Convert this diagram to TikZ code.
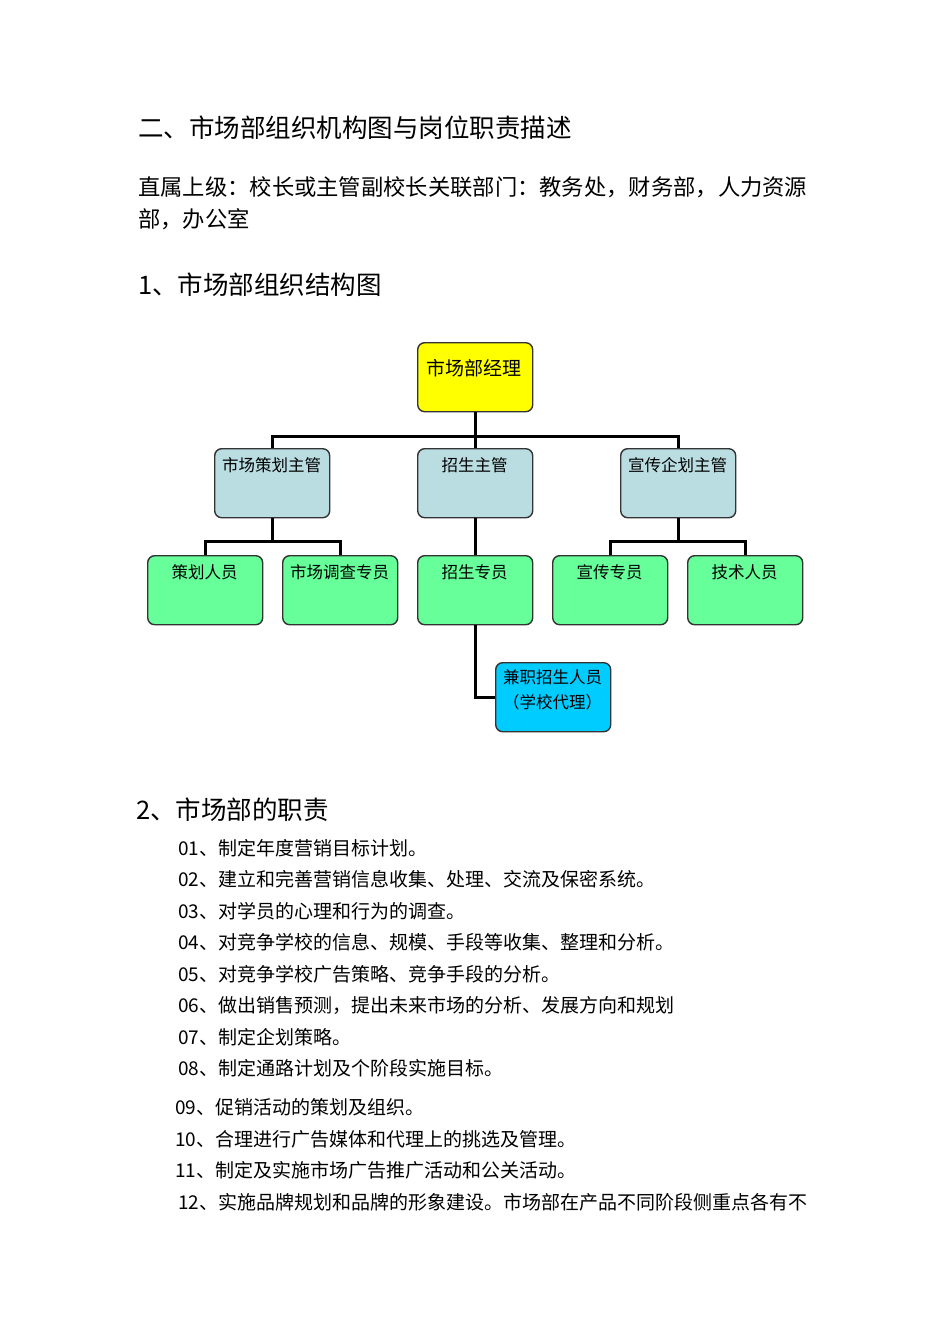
\documentclass[tikz,border=0pt]{standalone}
\usepackage{fontspec}
\setmainfont{Noto Sans CJK SC}
\begin{document}
\begin{tikzpicture}[x=1pt,y=-1pt,
 box/.style={draw=black!80,line width=1.4pt,rounded corners=7pt,minimum width=115pt,minimum height=69pt,anchor=north west,inner sep=0pt},
 lbl/.style={font=\fontsize{16.5}{19}\selectfont,align=center},
 ln/.style={line width=3pt},
 tx/.style={anchor=west,inner sep=0pt}]
\useasboundingbox (0,0) rectangle (950,1344);
\definecolor{yel}{HTML}{FFFF00}\definecolor{lb}{HTML}{BADDE2}\definecolor{gr}{HTML}{66FF99}\definecolor{cy}{HTML}{00CCFF}
\node[tx,font=\fontsize{25.5}{28}\selectfont] (h1) at (138,128) {二、市场部组织机构图与岗位职责描述};
\node[tx,font=\fontsize{22.3}{25}\selectfont] (p1) at (138,187) {直属上级：校长或主管副校长关联部门：教务处，财务部，人力资源};
\node[tx,font=\fontsize{22.3}{25}\selectfont] (p2) at (138,219) {部，办公室};
\node[tx,font=\fontsize{25.5}{28}\selectfont] (h2) at (138,285) {1、市场部组织结构图};
\node[tx,font=\fontsize{25.5}{28}\selectfont] (h3) at (136,810) {2、市场部的职责};
% boxes
\node[box,fill=yel] (m) at (417,342) {}; \node[lbl,font=\fontsize{19}{21}\selectfont] at (474,368) {市场部经理};
\foreach \n/\x/\t in {a/214/市场策划主管,b/417/招生主管,c/620/宣传企划主管}{
 \node[box,fill=lb] (\n) at (\x,448) {}; \node[lbl] at (\x+57.5,465) {\t};}
\foreach \n/\x/\t in {d/147/策划人员,e/282/市场调查专员,f/417/招生专员,g/552/宣传专员,h/687/技术人员}{
 \node[box,fill=gr] (\n) at (\x,555) {}; \node[lbl] at (\x+57.5,572) {\t};}
\node[box,fill=cy] (j) at (495,662) {};
\node[lbl,font=\fontsize{16.5}{25}\selectfont] at (552.5,690) {兼职招生人员\\（学校代理）};
% connectors
\draw[ln] (m.south) -- ++(0,24) coordinate (t1);
\draw[ln] (a.north) |- (t1) -| (c.north);
\draw[ln] (t1) -- (b.north);
\draw[ln] (a.south) -- ++(0,23) coordinate (t2);
\draw[ln] (d.north) |- (t2) -| (e.north);
\draw[ln] (b.south) -- (f.north);
\draw[ln] (c.south) -- ++(0,23) coordinate (t3);
\draw[ln] (g.north) |- (t3) -| (h.north);
\draw[ln] (f.south) |- (j.west);
% list
\foreach \y/\x/\t in {848/178/01、制定年度营销目标计划。,
879/178/02、建立和完善营销信息收集、处理、交流及保密系统。,
911/178/03、对学员的心理和行为的调查。,
942/178/04、对竞争学校的信息、规模、手段等收集、整理和分析。,
974/178/05、对竞争学校广告策略、竞争手段的分析。,
1005/178/06、做出销售预测，提出未来市场的分析、发展方向和规划,
1037/178/07、制定企划策略。,
1068/178/08、制定通路计划及个阶段实施目标。,
1107/175/09、促销活动的策划及组织。,
1139/175/10、合理进行广告媒体和代理上的挑选及管理。,
1170/175/11、制定及实施市场广告推广活动和公关活动。,
1202/178/12、实施品牌规划和品牌的形象建设。市场部在产品不同阶段侧重点各有不}
 \node[tx,font=\fontsize{19}{21}\selectfont] at (\x,\y) {\t};
\end{tikzpicture}
\end{document}
